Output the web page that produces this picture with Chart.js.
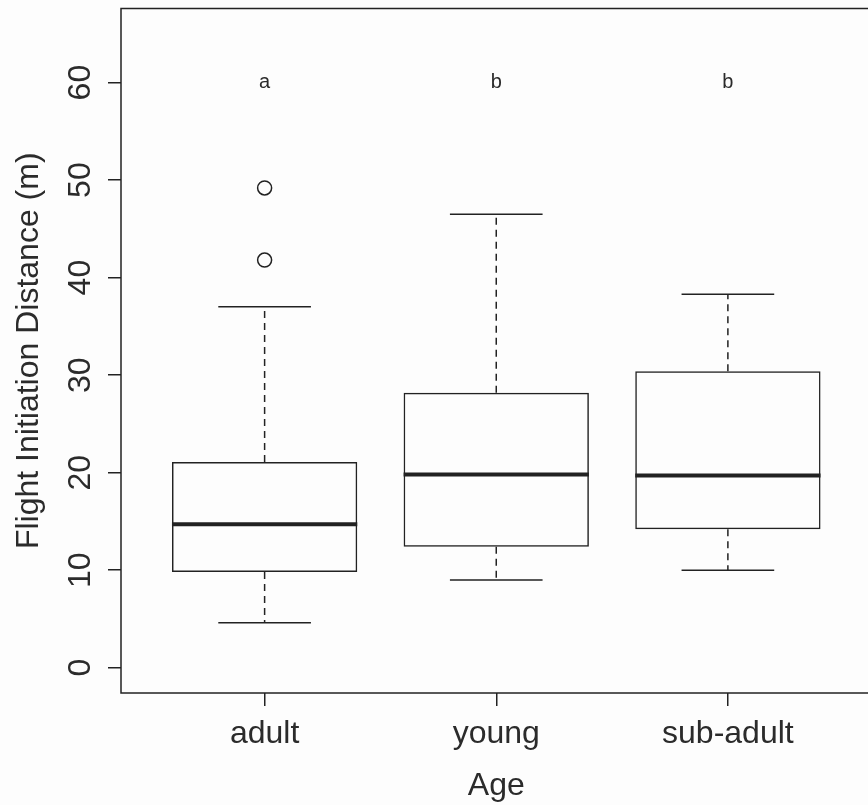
<!DOCTYPE html>
<html>
<head>
<meta charset="utf-8">
<title>Flight Initiation Distance by Age</title>
<script src="https://cdn.jsdelivr.net/npm/chart.js@4"></script>
<style>
  html, body { margin: 0; padding: 0; background: #fdfdfd; overflow: hidden; }
  #wrap { width: 868px; height: 805px; overflow: hidden; }
  canvas { display: block; }
</style>
</head>
<body>
<div id="wrap"><canvas id="chart" width="880" height="805"></canvas></div>
<script>
// Box plot values (FID in metres)
const categories = ['adult', 'young', 'sub-adult'];
const whiskerLow = [4.6, 9.0, 10.0];
const q1 = [9.8, 12.4, 14.2];
const medians = [14.7, 19.8, 19.7];
const q3 = [21.1, 28.2, 30.4];
const whiskerHigh = [37.0, 46.5, 38.3];
const outliers = [[49.2, 41.8], [], []];
const letters = ['a', 'b', 'b'];
const letterLevel = 60;
const yTicks = [0, 10, 20, 30, 40, 50, 60];

const FONT = "'Liberation Sans', Arial, sans-serif";
const INK = '#222';
const TEXT = '#2b2b2b';

// outlier points as {x, y}
const outlierPoints = [];
outliers.forEach((vals, i) => vals.forEach(v => outlierPoints.push({ x: i + 1, y: v })));

// whiskers, medians, frame and letters drawn on top via the scales
const boxExtras = {
  id: 'boxExtras',
  afterDatasetsDraw(chart) {
    const { ctx, chartArea, scales: { x, y } } = chart;
    ctx.save();
    ctx.strokeStyle = INK;
    categories.forEach((c, i) => {
      const cx = x.getPixelForValue(i + 1);
      const capL = x.getPixelForValue(i + 1 - 0.2);
      const capR = x.getPixelForValue(i + 1 + 0.2);
      const boxL = x.getPixelForValue(i + 1 - 0.4);
      const boxR = x.getPixelForValue(i + 1 + 0.4);

      // dashed whiskers
      ctx.lineWidth = 1.5;
      ctx.setLineDash([7, 5]);
      ctx.beginPath();
      ctx.moveTo(cx, y.getPixelForValue(q3[i]));
      ctx.lineTo(cx, y.getPixelForValue(whiskerHigh[i]));
      ctx.moveTo(cx, y.getPixelForValue(q1[i]));
      ctx.lineTo(cx, y.getPixelForValue(whiskerLow[i]));
      ctx.stroke();

      // caps
      ctx.setLineDash([]);
      ctx.beginPath();
      ctx.moveTo(capL, y.getPixelForValue(whiskerHigh[i]));
      ctx.lineTo(capR, y.getPixelForValue(whiskerHigh[i]));
      ctx.moveTo(capL, y.getPixelForValue(whiskerLow[i]));
      ctx.lineTo(capR, y.getPixelForValue(whiskerLow[i]));
      ctx.stroke();

      // median
      ctx.lineWidth = 4;
      ctx.beginPath();
      ctx.moveTo(boxL, y.getPixelForValue(medians[i]));
      ctx.lineTo(boxR, y.getPixelForValue(medians[i]));
      ctx.stroke();

      // significance letters
      ctx.fillStyle = TEXT;
      ctx.font = '20px ' + FONT;
      ctx.textAlign = 'center';
      ctx.textBaseline = 'middle';
      ctx.fillText(letters[i], cx, y.getPixelForValue(letterLevel));
    });

    // plot frame
    ctx.lineWidth = 1.5;
    ctx.strokeRect(chartArea.left, chartArea.top, chartArea.right - chartArea.left, chartArea.bottom - chartArea.top);
    ctx.restore();
  }
};

new Chart(document.getElementById('chart'), {
  type: 'bar',
  data: {
    datasets: [
      {
        label: 'IQR',
        data: categories.map((c, i) => ({ x: i + 1, y: [q1[i], q3[i]] })),
        backgroundColor: 'rgba(0,0,0,0)',
        borderColor: INK,
        borderWidth: 1.5,
        borderSkipped: false,
        barPercentage: 1,
        categoryPercentage: 0.8
      },
      {
        type: 'scatter',
        label: 'outliers',
        data: outlierPoints,
        pointStyle: 'circle',
        pointRadius: 7,
        pointBorderWidth: 1.5,
        pointBorderColor: INK,
        pointBackgroundColor: 'rgba(0,0,0,0)'
      }
    ]
  },
  options: {
    responsive: false,
    animation: false,
    layout: { padding: { top: 7, right: 6, left: 0, bottom: 0 } },
    plugins: { legend: { display: false }, tooltip: { enabled: false } },
    scales: {
      x: {
        type: 'linear',
        min: 0.38,
        max: 3.62,
        offset: false,
        afterBuildTicks: s => { s.ticks = categories.map((c, i) => ({ value: i + 1 })); },
        afterFit: s => { s.height = 112; s.paddingLeft = 0; s.paddingRight = 0; },
        grid: { offset: false, drawOnChartArea: false, drawTicks: true, tickLength: 13, color: INK, lineWidth: 1.5 },
        border: { display: false },
        ticks: {
          padding: 9,
          color: TEXT,
          font: { family: FONT, size: 32 },
          maxRotation: 0,
          callback: v => categories[v - 1]
        },
        title: { display: true, text: 'Age', color: TEXT, font: { family: FONT, size: 32 }, padding: { top: 0, bottom: 0 } }
      },
      y: {
        min: -2.6,
        max: 67.6,
        afterBuildTicks: s => { s.ticks = yTicks.map(v => ({ value: v })); },
        afterFit: s => { s.width = 121; s.paddingTop = 0; s.paddingBottom = 0; },
        grid: { drawOnChartArea: false, drawTicks: true, tickLength: 13, color: INK, lineWidth: 1.5 },
        border: { display: false },
        ticks: {
          padding: 9,
          minRotation: 90,
          maxRotation: 90,
          crossAlign: 'center',
          color: TEXT,
          font: { family: FONT, size: 32 }
        },
        title: { display: true, text: 'Flight Initiation Distance (m)', color: TEXT, font: { family: FONT, size: 32 }, padding: { top: 10, bottom: 0 } }
      }
    }
  },
  plugins: [boxExtras]
});
</script>
</body>
</html>
